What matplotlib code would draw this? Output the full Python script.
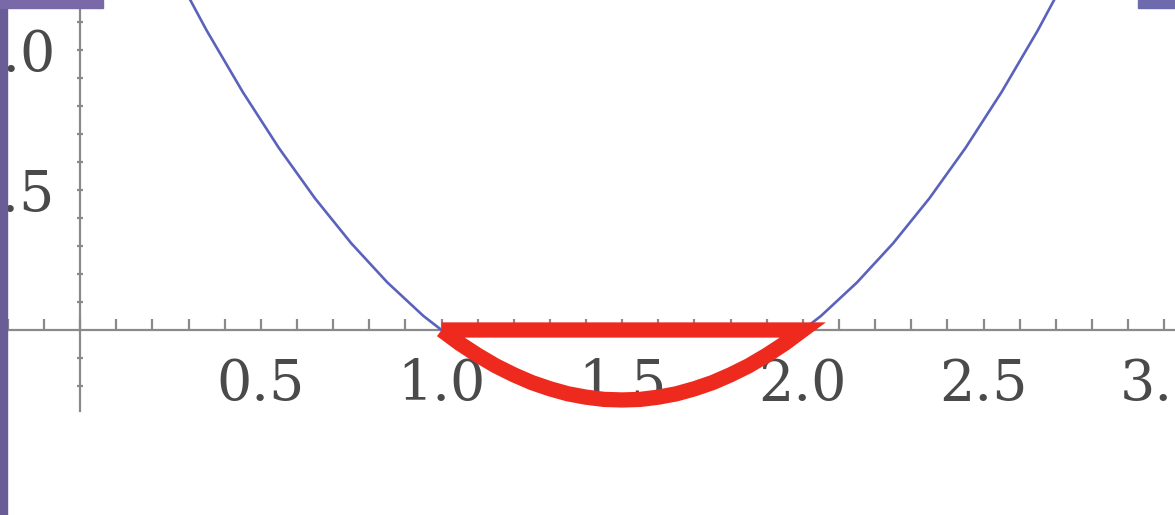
import matplotlib
matplotlib.use("Agg")
import matplotlib.pyplot as plt
from matplotlib.patches import Rectangle
from matplotlib.ticker import FixedLocator, MultipleLocator

x_vals = [0.3, 0.35, 0.4, 0.45, 0.5, 0.55, 0.6, 0.65, 0.7, 0.75, 0.8, 0.85,
          0.9, 0.95, 1.0, 1.05, 1.1, 1.15, 1.2, 1.25, 1.3, 1.35, 1.4, 1.45,
          1.5, 1.55, 1.6, 1.65, 1.7, 1.75, 1.8, 1.85, 1.9, 1.95, 2.0, 2.05,
          2.1, 2.15, 2.2, 2.25, 2.3, 2.35, 2.4, 2.45, 2.5, 2.55, 2.6, 2.65, 2.7]
y_vals = [1.19, 1.07, 0.96, 0.85, 0.75, 0.65, 0.56, 0.47, 0.39, 0.31, 0.24,
          0.17, 0.11, 0.05, 0.0, -0.048, -0.09, -0.128, -0.16, -0.188, -0.21,
          -0.228, -0.24, -0.248, -0.25, -0.248, -0.24, -0.228, -0.21, -0.188,
          -0.16, -0.128, -0.09, -0.048, 0.0, 0.05, 0.11, 0.17, 0.24, 0.31, 0.39,
          0.47, 0.56, 0.65, 0.75, 0.85, 0.96, 1.07, 1.19]

# highlighted region between the roots
root_lo = 1.0
root_hi = 2.0

x_ticks = [0.5, 1.0, 1.5, 2.0, 2.5, 3.0]
x_labels = ["0.5", "1.0", "1.5", "2.0", "2.5", "3.0"]
y_ticks = [0.5, 1.0]
y_labels = ["0.5", "1.0"]
y_minor = [-0.2, -0.1, 0.1, 0.2, 0.3, 0.4, 0.6, 0.7, 0.8, 0.9, 1.1]

fig = plt.figure(figsize=(11.75, 5.15), dpi=100)
ax = fig.add_axes([0, 0, 1, 1])
ax.set_xlim(-0.222, 3.03)
ax.set_ylim(-0.661, 1.179)

# blue curve
ax.plot(x_vals, y_vals, color="#5a62bc", linewidth=1.9, zorder=3)

# red closed region: curve between the roots, then back along the axis
i0 = x_vals.index(root_lo)
i1 = x_vals.index(root_hi)
red_x = x_vals[i0:i1 + 1] + [root_lo]
red_y = y_vals[i0:i1 + 1] + [0.0]
ax.plot(red_x, red_y, color="#ee2a1e", linewidth=11, zorder=4,
        solid_joinstyle="miter", solid_capstyle="butt")

# axes through the origin
for side in ["top", "right"]:
    ax.spines[side].set_visible(False)
ax.spines["bottom"].set_position(("data", 0))
ax.spines["left"].set_position(("data", 0))
ax.spines["left"].set_bounds(-0.29, 1.179)
for side in ["bottom", "left"]:
    ax.spines[side].set_color("#8a8a8a")
    ax.spines[side].set_linewidth(1.6)

ax.set_xticks(x_ticks)
ax.set_xticklabels(x_labels)
ax.xaxis.set_minor_locator(MultipleLocator(0.1))
ax.set_yticks(y_ticks)
ax.set_yticklabels(y_labels)
ax.yaxis.set_minor_locator(FixedLocator(y_minor))

ax.tick_params(axis="x", which="both", direction="in", length=8, width=1.6,
               color="#8a8a8a", pad=20)
ax.tick_params(axis="y", which="both", direction="inout", length=4, width=1.6,
               color="#8a8a8a", pad=16)
for lab in ax.get_xticklabels() + ax.get_yticklabels():
    lab.set_fontfamily("DejaVu Serif")
    lab.set_fontsize(40)
    lab.set_color("#4a4a4a")

# purple window edges of the screenshot
fig.patches.append(Rectangle((0, 0), 7 / 1175, 1, transform=fig.transFigure,
                             color="#685d96", zorder=10))
fig.patches.append(Rectangle((0, 1 - 8 / 515), 103 / 1175, 8 / 515,
                             transform=fig.transFigure, color="#7a69a8", zorder=10))
fig.patches.append(Rectangle((1138 / 1175, 1 - 8 / 515), 37 / 1175, 8 / 515,
                             transform=fig.transFigure, color="#6d6aae", zorder=10))

fig.savefig("out.png", dpi=100)
